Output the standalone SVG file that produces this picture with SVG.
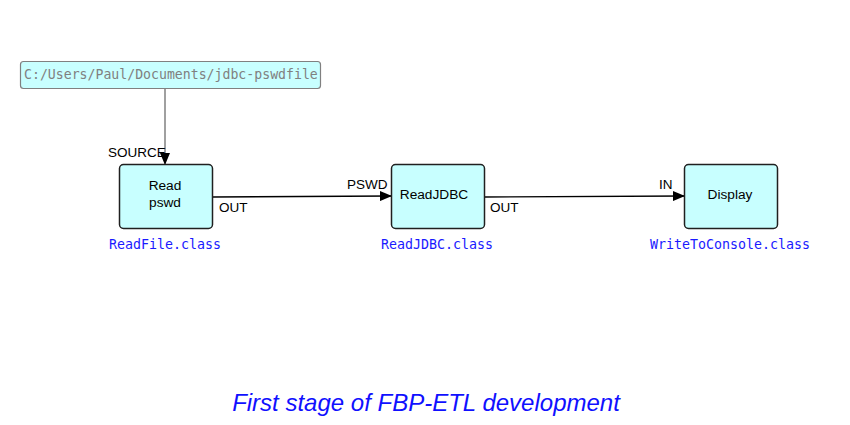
<svg xmlns="http://www.w3.org/2000/svg" width="850" height="425" viewBox="0 0 850 425">
<style>
.node{fill:#c8ffff;stroke:#202020;stroke-width:1.5}
.nt{font-family:"Liberation Sans",Arial,sans-serif;font-size:13.7px;fill:#000;text-anchor:middle}
.port{font-family:"Liberation Sans",Arial,sans-serif;font-size:13.5px;fill:#000}
.cls{font-family:"DejaVu Sans Mono",monospace;font-size:13.3px;fill:#1a1aff}
.conn{stroke:#000;stroke-width:1.3;fill:none}
</style>
<defs>
<marker id="ah" markerWidth="12" markerHeight="10" refX="11" refY="5" orient="auto" markerUnits="userSpaceOnUse">
<path d="M0,0 L12,5 L0,10 z" fill="#000"/>
</marker>
</defs>
<rect width="850" height="425" fill="#fff"/>
<g id="connectors">
<line x1="165" y1="88" x2="165" y2="164" stroke="#808080" stroke-width="1.5" marker-end="url(#ah)"/>
<line class="conn" x1="212" y1="197" x2="391" y2="196" marker-end="url(#ah)"/>
<line class="conn" x1="484" y1="197" x2="684" y2="196" marker-end="url(#ah)"/>
</g>
<g id="iip">
<rect x="20.5" y="61.5" width="300" height="27" rx="3" fill="#c8ffff" stroke="#808080" stroke-width="1.2"/>
<text x="24" y="79" font-family="DejaVu Sans Mono,monospace" font-size="13.2" fill="#808080">C:/Users/Paul/Documents/jdbc-pswdfile</text>
</g>
<g id="read">
<rect class="node" x="119.5" y="164.5" width="93" height="64" rx="4"/>
<text class="nt" x="165" y="190">Read</text>
<text class="nt" x="165" y="207">pswd</text>
<text class="cls" x="109" y="249">ReadFile.class</text>
</g>
<g id="readjdbc">
<rect class="node" x="391.5" y="164.5" width="93" height="64" rx="4"/>
<text class="nt" x="434" y="199">ReadJDBC</text>
<text class="cls" x="381" y="249">ReadJDBC.class</text>
</g>
<g id="display">
<rect class="node" x="684.5" y="164.5" width="93" height="64" rx="4"/>
<text class="nt" x="730" y="199">Display</text>
<text class="cls" x="650" y="249">WriteToConsole.class</text>
</g>
<g id="ports">
<text class="port" x="108" y="157">SOURCE</text>
<text class="port" x="219" y="212">OUT</text>
<text class="port" x="347" y="189">PSWD</text>
<text class="port" x="490" y="212">OUT</text>
<text class="port" x="659" y="189">IN</text>
</g>
<text x="426" y="411" text-anchor="middle" font-family="Liberation Sans,Arial,sans-serif" font-style="italic" font-size="24" fill="#1010ff">First stage of FBP-ETL development</text>
</svg>
